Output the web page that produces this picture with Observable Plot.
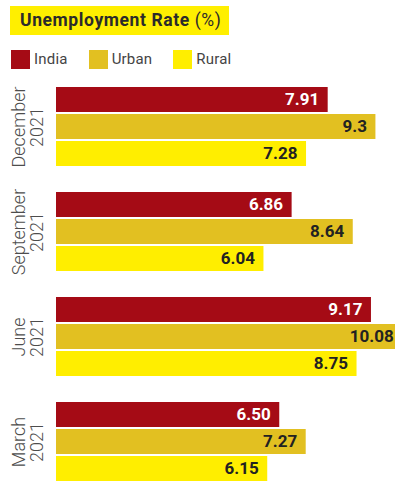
<!DOCTYPE html>
<html><head><meta charset="utf-8">
<script src="https://cdn.jsdelivr.net/npm/d3@7"></script>
<script src="https://cdn.jsdelivr.net/npm/@observablehq/plot@0.6"></script>
<style>
html,body{margin:0;padding:0;background:#fff;overflow:hidden;}
body{width:395px;height:484px;position:relative;font-family:Roboto,sans-serif;}
#title{position:absolute;left:10px;top:6px;height:29px;width:219px;background:#FFEF00;box-sizing:border-box;padding-left:10px;line-height:29px;font-size:17.5px;letter-spacing:0.6px;color:#2b2b2b;white-space:nowrap;}
#title b{font-weight:700;}
#legend{position:absolute;left:11px;top:50px;height:19px;display:flex;align-items:center;}
.item{display:flex;align-items:center;margin-right:21px;}
.sw{width:19px;height:19px;margin-right:4px;}
.lb{font-size:15px;color:#444;line-height:19px;letter-spacing:0.2px;}
#chart{position:absolute;left:0;top:76px;}
</style></head>
<body>
<div id="title"><b>Unemployment Rate</b> (%)</div>
<div id="legend"></div>
<div id="chart"></div>
<script>
const months = ["December 2021", "September 2021", "June 2021", "March 2021"];
const series = ["India", "Urban", "Rural"];
const colors = ["#A50B15", "#E2C021", "#FFEE00"];
const india = [7.91, 6.86, 9.17, 6.50];
const urban = [9.3, 8.64, 10.08, 7.27];
const rural = [7.28, 6.04, 8.75, 6.15];

const seriesValues = [india, urban, rural];
const data = months.flatMap((m, i) => series.map((s, j) => ({month: m, series: s, value: seriesValues[j][i]})));
const fmt = d => d.series === "India" ? d.value.toFixed(2) : String(d.value);

// legend
const legend = d3.select("#legend");
series.forEach((s, j) => {
  const it = legend.append("div").attr("class", "item");
  it.append("div").attr("class", "sw").style("background", colors[j]);
  it.append("span").attr("class", "lb").text(s);
});

const chart = Plot.plot({
  width: 395, height: 408,
  marginTop: 9, marginBottom: 0, marginLeft: 56, marginRight: 0,
  x: {domain: [0, 9.87], axis: null},
  y: {domain: series, axis: null, paddingInner: 2 / 28, paddingOuter: 0},
  fy: {domain: months, axis: null, paddingInner: 0.224, paddingOuter: 0},
  color: {domain: series, range: colors},
  style: {fontFamily: "Roboto, sans-serif", overflow: "hidden", background: "#fff"},
  marks: [
    Plot.barX(data, {x: "value", y: "series", fy: "month", fill: "series", clip: true}),
    Plot.text(data, {filter: d => d.series === "India", x: "value", y: "series", fy: "month", text: fmt,
      textAnchor: "end", dx: -9, fill: "#fff", fontWeight: "bold", fontSize: 17}),
    Plot.text(data, {filter: d => d.series !== "India", x: "value", y: "series", fy: "month", text: fmt,
      textAnchor: "end", dx: -9, fill: "#222", fontWeight: "bold", fontSize: 17}),
    Plot.text(months, {fy: d => d, text: d => d.replace(" ", "\n"), frameAnchor: "left", rotate: -90,
      dx: -44, lineAnchor: "top", textAnchor: "middle", fontSize: 18, fontWeight: 300, fill: "#4d4d4d"})
  ]
});
document.getElementById("chart").appendChild(chart);
</script>
</body></html>
